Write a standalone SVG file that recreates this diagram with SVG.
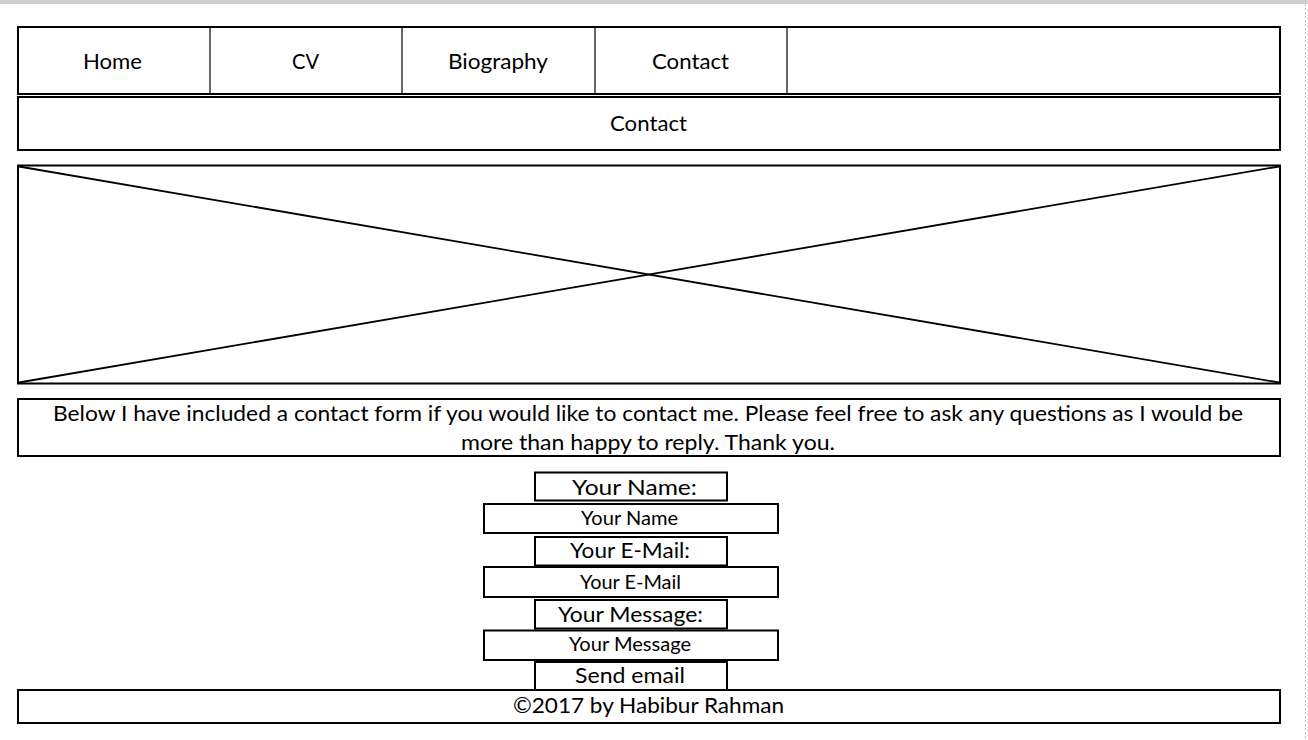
<svg xmlns="http://www.w3.org/2000/svg" width="1308" height="740" viewBox="0 0 1308 740">
<style>
.box{fill:#fff;stroke:#000;stroke-width:2}
.thin{stroke:#000;stroke-width:1.2;fill:none}
.diag{stroke:#000;stroke-width:1.8;fill:none}
text{font-family:Lato,"Open Sans","Noto Sans",sans-serif;fill:#000;text-anchor:middle}
.nav{font-size:22px}
.body{font-size:22px}
.lbl{font-size:22px}
.inp{font-size:19px}
</style>
<rect x="0" y="0" width="1308" height="740" fill="#fff"/>
<rect x="0" y="0" width="1308" height="4" fill="#cfcfcf"/>
<line x1="1305.5" y1="4" x2="1305.5" y2="740" stroke="#bbb" stroke-width="1" stroke-dasharray="2,2"/>

<g id="nav">
<rect class="box" x="18" y="27" width="1262" height="67"/>
<line class="thin" x1="210" y1="27" x2="210" y2="94"/>
<line class="thin" x1="402" y1="27" x2="402" y2="94"/>
<line class="thin" x1="595" y1="27" x2="595" y2="94"/>
<line class="thin" x1="787" y1="27" x2="787" y2="94"/>
<text class="nav" x="112.5" y="69" textLength="59" lengthAdjust="spacingAndGlyphs">Home</text>
<text class="nav" x="305.5" y="69" textLength="27" lengthAdjust="spacingAndGlyphs">CV</text>
<text class="nav" x="498" y="69" textLength="100" lengthAdjust="spacingAndGlyphs">Biography</text>
<text class="nav" x="690.5" y="69" textLength="77" lengthAdjust="spacingAndGlyphs">Contact</text>
</g>

<g id="header">
<rect class="box" x="18" y="97" width="1262" height="53"/>
<text class="nav" x="648.5" y="131" textLength="77" lengthAdjust="spacingAndGlyphs">Contact</text>
</g>

<g id="image">
<rect class="box" x="18" y="165.5" width="1262" height="218"/>
<line class="diag" x1="19" y1="166.5" x2="1279" y2="382.5"/>
<line class="diag" x1="19" y1="382.5" x2="1279" y2="166.5"/>
</g>

<g id="intro">
<rect class="box" x="18" y="399" width="1262" height="57"/>
<text class="body" x="648" y="421" textLength="1190" lengthAdjust="spacingAndGlyphs">Below I have included a contact form if you would like to contact me. Please feel free to ask any questions as I would be</text>
<text class="body" x="648" y="450" textLength="374" lengthAdjust="spacingAndGlyphs">more than happy to reply. Thank you.</text>
</g>

<g id="name-label">
<rect class="box" x="535" y="472.5" width="192" height="28"/>
<text class="lbl" x="634.5" y="495" textLength="125" lengthAdjust="spacingAndGlyphs">Your Name:</text>
</g>
<g id="name-input">
<rect class="box" x="484" y="504" width="294" height="29"/>
<text class="inp" x="629.5" y="525" textLength="97" lengthAdjust="spacingAndGlyphs">Your Name</text>
</g>
<g id="email-label">
<rect class="box" x="535" y="537" width="192" height="28.5"/>
<text class="lbl" x="630" y="558" textLength="120" lengthAdjust="spacingAndGlyphs">Your E-Mail:</text>
</g>
<g id="email-input">
<rect class="box" x="484" y="567" width="294" height="30"/>
<text class="inp" x="630.5" y="589" textLength="101" lengthAdjust="spacingAndGlyphs">Your E-Mail</text>
</g>
<g id="message-label">
<rect class="box" x="535" y="600" width="192" height="28.5"/>
<text class="lbl" x="630.5" y="622" textLength="145" lengthAdjust="spacingAndGlyphs">Your Message:</text>
</g>
<g id="message-input">
<rect class="box" x="484" y="630.5" width="294" height="29.5"/>
<text class="inp" x="630" y="651" textLength="122" lengthAdjust="spacingAndGlyphs">Your Message</text>
</g>
<g id="send">
<rect class="box" x="535" y="662" width="192" height="28"/>
<text class="lbl" x="630" y="683" textLength="110" lengthAdjust="spacingAndGlyphs">Send email</text>
</g>

<g id="footer">
<rect class="box" x="18" y="690" width="1262" height="33"/>
<text class="lbl" x="648.5" y="713" textLength="271" lengthAdjust="spacingAndGlyphs">©2017 by Habibur Rahman</text>
</g>

<g id="connectors"></g>
</svg>
